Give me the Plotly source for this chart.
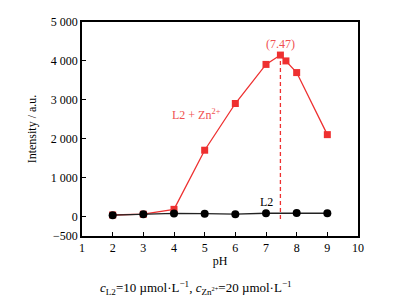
import plotly.graph_objects as go

ph_zn = [2, 3, 4, 5, 6, 7, 7.47, 7.65, 8, 9]
int_zn = [40, 60, 185, 1705, 2905, 3910, 4150, 4000, 3700, 2105]
ph_l2 = [2, 3, 4, 5, 6, 7, 8, 9]
int_l2 = [35, 60, 80, 75, 60, 85, 92, 85]
peak_ph = 7.47
peak_val = 4150
x_ticks = [1, 2, 3, 4, 5, 6, 7, 8, 9, 10]
y_ticks = [-500, 0, 1000, 2000, 3000, 4000, 5000]
y_labels = ["\u2212500", "0", "1 000", "2 000", "3 000", "4 000", "5 000"]

RED = "#ee3030"
font = "Liberation Serif, Times New Roman, serif"

fig = go.Figure()
fig.add_trace(go.Scatter(x=[peak_ph, peak_ph], y=[-60, peak_val], mode="lines",
                         line=dict(color=RED, width=1.3, dash="4px,3px"), showlegend=False))
fig.add_trace(go.Scatter(x=ph_zn, y=int_zn, mode="lines+markers",
                         line=dict(color=RED, width=1.3),
                         marker=dict(symbol="square", size=7, color=RED), showlegend=False))
fig.add_trace(go.Scatter(x=ph_l2, y=int_l2, mode="lines+markers",
                         line=dict(color="#222222", width=1.3),
                         marker=dict(symbol="circle", size=8, color="black"), showlegend=False))

fig.add_annotation(x=peak_ph, y=4440, text="(7.47)", showarrow=False,
                   font=dict(family=font, size=12, color="#f05050"))
fig.add_annotation(x=4.72, y=2620, text="L2 + Zn<sup>2+</sup>", showarrow=False,
                   font=dict(family=font, size=12, color="#f05050"))
fig.add_annotation(x=7, y=370, text="L2", showarrow=False,
                   font=dict(family=font, size=12, color="black"))
fig.add_annotation(xref="paper", yref="paper", x=0.413, y=-0.244, xanchor="center", yanchor="middle",
                   text="<i>c</i><sub>L2</sub>=10 \u00b5mol\u00b7L<sup>\u22121</sup>, <i>c</i><sub>Zn<sup>2+</sup></sub>=20 \u00b5mol\u00b7L<sup>\u22121</sup>",
                   showarrow=False, font=dict(family=font, size=13, color="black"))

axis_common = dict(showline=True, linecolor="black", linewidth=1.5, mirror=True,
                   ticks="inside", ticklen=4, tickwidth=1.2, tickcolor="black",
                   showgrid=False, zeroline=False,
                   tickfont=dict(family=font, size=12, color="black"))

fig.update_xaxes(range=[1, 10], tickvals=x_ticks,
                 title=dict(text="pH", font=dict(family=font, size=12, color="black"), standoff=2),
                 **axis_common)
fig.update_yaxes(range=[-500, 5000], tickvals=y_ticks, ticktext=y_labels,
                 title=dict(text="Intensity / a.u.", font=dict(family=font, size=12, color="black"), standoff=12),
                 **axis_common)

fig.update_layout(width=385, height=300, margin=dict(l=74, r=35, t=7, b=72),
                  paper_bgcolor="white", plot_bgcolor="white",
                  font=dict(family=font, size=12, color="black"))

fig.write_html("out.html")
